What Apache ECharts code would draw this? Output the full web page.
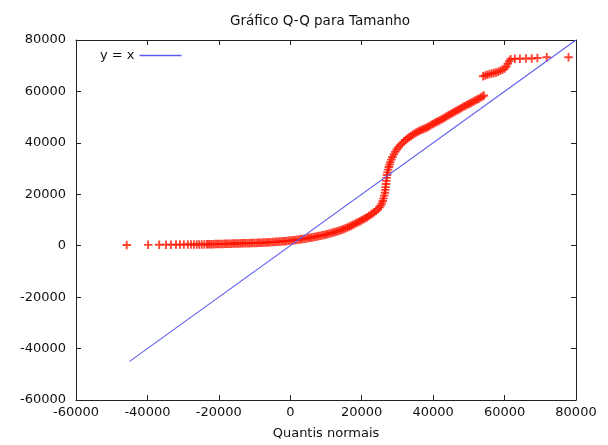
<!DOCTYPE html>
<html>
<head>
<meta charset="utf-8">
<script src="https://cdn.jsdelivr.net/npm/echarts@6/dist/echarts.min.js"></script>
<style>
  html, body { margin: 0; padding: 0; background: #fff; }
  #chart { width: 608px; height: 445px; }
</style>
</head>
<body>
<div id="chart"></div>
<script>
// quantis normais (x) e valores de Tamanho (y)
const quantis = [
  -45800, -39800, -36700, -34800, -33400, -32000, -30900, -29800, -28700, -27800, -27000, -26200, -25500, -24800, -24100, -23400,
  -23000, -22500, -22000, -21500, -21000, -20500, -20000, -19500, -19000, -18500, -18000, -17500, -17000, -16500, -16000, -15500,
  -15000, -14500, -14000, -13500, -13000, -12500, -12000, -11500, -11000, -10500, -10000, -9500, -9000, -8500, -8000, -7500,
  -7000, -6500, -6000, -5500, -5000, -4500, -4000, -3500, -3000, -2500, -2000, -1500, -1000, -500, 0, 500,
  1000, 1500, 2000, 2500, 3000, 3500, 4000, 4500, 5000, 5500, 6000, 6500, 7000, 7500, 8000, 8500,
  9000, 9500, 10000, 10500, 11000, 11500, 12000, 12500, 13000, 13500, 14000, 14500, 15000, 15500, 16000, 16500,
  17000, 17500, 18000, 18500, 19000, 19500, 20000, 20500, 21000, 21500, 22000, 22500, 23000, 23500, 24000, 24500,
  25000, 25300, 25600, 25900, 26100, 26300, 26500, 26600, 26700, 26800, 26900, 27000, 27100, 27200, 27400, 27600,
  27800, 28000, 28300, 28600, 29000, 29400, 29800, 30300, 30800, 31300, 31800, 32300, 32800, 33300, 33800, 34300,
  34800, 35300, 35800, 36300, 36800, 37300, 37800, 38300, 38800, 39300, 39800, 40300, 40800, 41300, 41800, 42300,
  42800, 43300, 43800, 44300, 44800, 45300, 45800, 46300, 46800, 47300, 47800, 48300, 48800, 49300, 49800, 50300,
  50800, 51300, 51800, 52300, 52800, 53300, 53800, 54200,
  54000, 54600, 55200, 55800, 56400, 57000, 57600, 58200, 58800, 59400, 60000, 60500, 60900, 61300, 61700,
  62900, 64300, 66000, 67600, 69200, 71800, 77900
]
const tamanho = [
  300, 350, 380, 400, 420, 430, 440, 450, 460, 470, 480, 490, 500, 510, 520, 530,
  540, 560, 580, 600, 620, 640, 660, 680, 700, 720, 740, 760, 780, 800, 820, 840,
  860, 880, 900, 920, 940, 960, 980, 1000, 1020, 1040, 1060, 1090, 1120, 1150, 1180, 1210,
  1240, 1280, 1320, 1360, 1400, 1450, 1500, 1550, 1600, 1660, 1720, 1780, 1840, 1900, 1980, 2060,
  2140, 2220, 2300, 2400, 2500, 2600, 2720, 2840, 2960, 3080, 3200, 3340, 3480, 3620, 3760, 3900,
  4050, 4200, 4380, 4560, 4750, 4950, 5150, 5350, 5550, 5750, 6000, 6250, 6500, 6800, 7100, 7400,
  7750, 8100, 8450, 8800, 9150, 9500, 9900, 10300, 10700, 11100, 11550, 12000, 12500, 13000, 13600, 14200,
  14900, 15600, 16400, 17400, 18400, 19500, 20600, 21700, 22800, 24000, 25200, 26400, 27500, 28500, 29600, 30600,
  31600, 32500, 33500, 34500, 35500, 36500, 37400, 38300, 39100, 39800, 40500, 41100, 41700, 42200, 42700, 43200,
  43600, 44000, 44400, 44800, 45100, 45400, 45700, 46000, 46400, 46800, 47200, 47600, 48000, 48300, 48700, 49100,
  49500, 49900, 50300, 50700, 51100, 51500, 51900, 52300, 52700, 53100, 53500, 53900, 54200, 54600, 55000, 55300,
  55700, 56100, 56500, 56900, 57200, 57600, 58000, 58400,
  65900, 66200, 66500, 66800, 67000, 67200, 67400, 67700, 68000, 68400, 68900, 69700, 70800, 71800, 72500,
  72700, 72700, 72800, 72800, 73000, 73300, 73300
]
// reta y = x
const retaX = [-45000, 80000]
const retaY = [-45000, 80000]

const pontos = quantis.map((q, i) => [q, tamanho[i]])
const reta = retaX.map((x, i) => [x, retaY[i]])

const fonte = 'DejaVu Sans'
const plus = 'path://M3.9,0H6.1V3.9H10V6.1H6.1V10H3.9V6.1H0V3.9H3.9Z'
const azul = '#5c5cf0'

const eixo = {
  type: 'value',
  min: -60000,
  max: 80000,
  interval: 20000,
  splitLine: { show: false },
  axisLine: { show: true, onZero: false, lineStyle: { color: '#222', width: 1 } },
  axisTick: { show: true, inside: true, length: 5, lineStyle: { color: '#222' } }
}
const rotulo = { fontFamily: fonte, fontSize: 13, color: '#111', formatter: v => String(v) }

const chart = echarts.init(document.getElementById('chart'))
chart.setOption({
  animation: false,
  backgroundColor: '#fff',
  title: {
    text: 'Gráfico Q-Q para Tamanho',
    left: 225,
    top: 9,
    textStyle: { fontFamily: fonte, fontSize: 13.5, fontWeight: 'normal', color: '#111' }
  },
  legend: {
    data: ['y = x'],
    left: 95,
    top: 44,
    align: 'right',
    icon: 'rect',
    itemWidth: 42,
    itemHeight: 1.5,
    itemGap: 6,
    itemStyle: { color: azul, borderWidth: 0 },
    textStyle: { fontFamily: fonte, fontSize: 13, color: '#111' }
  },
  grid: { left: 76, right: 32, top: 40, bottom: 41 },
  xAxis: [
    Object.assign({}, eixo, {
      position: 'bottom',
      name: 'Quantis normais',
      nameLocation: 'middle',
      nameGap: 27,
      nameTextStyle: { fontFamily: fonte, fontSize: 13, color: '#111' },
      axisLabel: Object.assign({ margin: 6 }, rotulo)
    }),
    Object.assign({}, eixo, { position: 'top', axisLabel: { show: false } })
  ],
  yAxis: [
    Object.assign({}, eixo, {
      position: 'left',
      axisLabel: Object.assign({ margin: 10 }, rotulo)
    }),
    Object.assign({}, eixo, { position: 'right', axisLabel: { show: false } })
  ],
  series: [
    {
      name: 'Tamanho',
      type: 'scatter',
      data: pontos,
      symbol: plus,
      symbolSize: 8.5,
      itemStyle: { color: '#ff1400' },
      z: 2
    },
    {
      name: 'y = x',
      type: 'line',
      data: reta,
      showSymbol: false,
      symbol: 'none',
      lineStyle: { color: azul, width: 1.1 },
      itemStyle: { color: azul },
      z: 3
    }
  ]
})
</script>
</body>
</html>
